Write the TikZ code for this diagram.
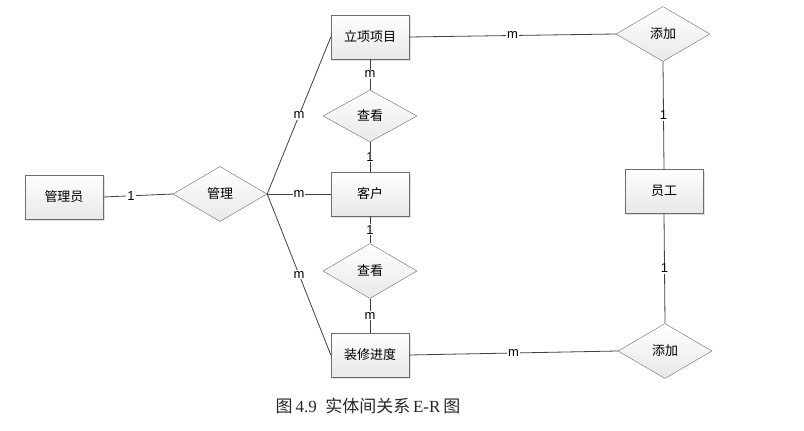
\documentclass[tikz,border=0pt]{standalone}
\usepackage{fontspec}
\usepackage{tikz}
\usetikzlibrary{shapes.geometric,shadows}
\setmainfont{Liberation Sans}
\newfontfamily\cjk{Noto Sans CJK SC}
\newfontfamily\capserif{Liberation Serif}

\begin{document}
\begin{tikzpicture}[x=1pt, y=-1pt,
    entity/.style={draw=gray!85!black, rectangle, minimum width=78pt, minimum height=44pt,
        top color=white, bottom color=gray!18, drop shadow={shadow xshift=1.5pt, shadow yshift=-1.5pt, opacity=0.25},
        font=\cjk\fontsize{13}{15}\selectfont},
    relation/.style={draw=gray!85!black, diamond, minimum width=94pt, minimum height=55pt, inner sep=0pt,
        shape aspect=1.7, top color=white, bottom color=gray!18, font=\cjk\fontsize{13}{15}\selectfont},
    link/.style={draw=black!75, line width=0.8pt},
    card/.style={fill=white, inner sep=1pt, font=\fontsize{13}{15}\selectfont}]
    \useasboundingbox (0,0) rectangle (804,431);

    \node[entity] (admin) at (64,197) {管理员};
    \node[relation] (manage) at (220,194) {管理};
    \node[entity] (project) at (370,37) {立项项目};
    \node[relation, minimum height=52pt] (viewA) at (370,116) {查看};
    \node[entity] (client) at (370,194) {客户};
    \node[relation] (viewB) at (370,271) {查看};
    \node[entity] (progress) at (370,355) {装修进度};
    \node[relation] (addA) at (663,34) {添加};
    \node[entity] (staff) at (664,191) {员工};
    \node[relation] (addB) at (665,351) {添加};

    \draw[link] (admin.east) -- node[card, pos=0.4] {1} (manage.west);
    \draw[link] (manage.east) -- node[card] {m} (project.west);
    \draw[link] (manage.east) -- node[card] {m} (client.west);
    \draw[link] (manage.east) -- node[card] {m} (progress.west);
    \draw[link] (project.south) -- node[card] {m} (viewA.north);
    \draw[link] (viewA.south) -- node[card] {1} (client.north);
    \draw[link] (client.south) -- node[card] {1} (viewB.north);
    \draw[link] (viewB.south) -- node[card] {m} (progress.north);
    \draw[link] (project.east) -- node[card] {m} (addA.west);
    \draw[link] (addA.south) -- node[card] {1} (staff.north);
    \draw[link] (staff.south) -- node[card] {1} (addB.north);
    \draw[link] (progress.east) -- node[card] {m} (addB.west);

    \node[font=\fontsize{17}{19}\selectfont, text=black!85] (caption) at (368,406)
        {{\cjk 图}\,{\capserif 4.9}\enspace{\cjk 实体间关系}\,{\capserif E-R}\,{\cjk 图}};
\end{tikzpicture}
\end{document}
